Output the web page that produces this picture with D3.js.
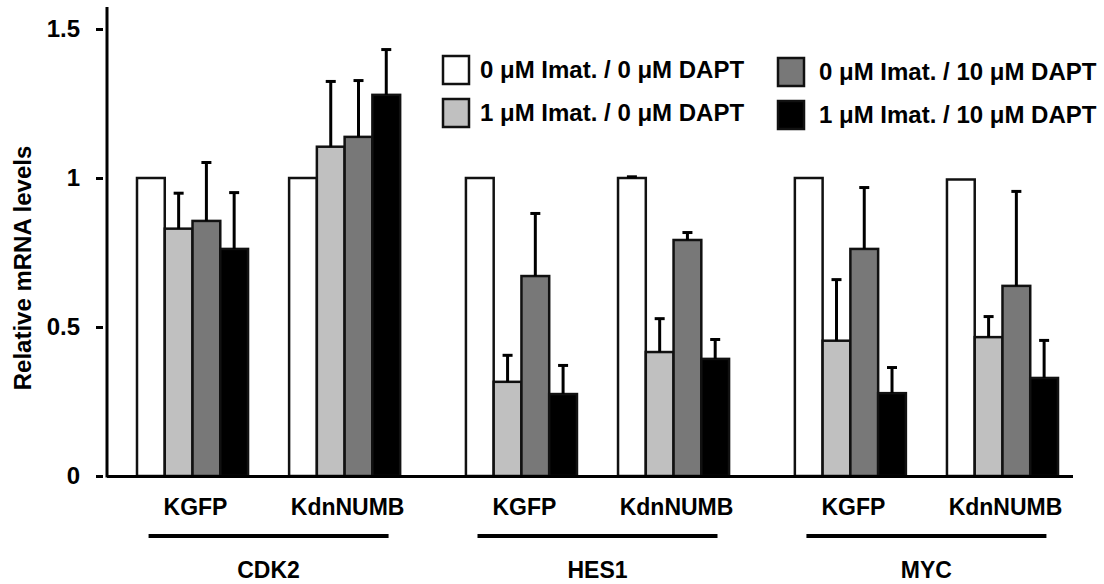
<!DOCTYPE html>
<html>
<head>
<meta charset="utf-8">
<script src="https://cdn.jsdelivr.net/npm/d3@7"></script>
<style>
body { margin: 0; background: #fff; }
text { font-family: "Liberation Sans", Arial, sans-serif; font-weight: bold; fill: #000; }
</style>
</head>
<body>
<script>

var genes = ["CDK2", "HES1", "MYC"];
var constructs = ["KGFP", "KdnNUMB"];
var conditions = [
  "0 μM Imat. / 0 μM DAPT",
  "1 μM Imat. / 0 μM DAPT",
  "0 μM Imat. / 10 μM DAPT",
  "1 μM Imat. / 10 μM DAPT"
];
var colors = ["#ffffff", "#c0c0c0", "#787878", "#000000"];

// one value per gene/construct pair: CDK2-KGFP, CDK2-KdnNUMB, HES1-KGFP, ...
var mean0 = [1.0, 1.0, 1.0, 1.0, 1.0, 0.995];
var mean1 = [0.83, 1.105, 0.316, 0.416, 0.454, 0.466];
var mean2 = [0.856, 1.138, 0.671, 0.792, 0.762, 0.638];
var mean3 = [0.762, 1.279, 0.275, 0.393, 0.278, 0.329];
var err0 = [0, 0, 0, 0.004, 0, 0];
var err1 = [0.119, 0.219, 0.089, 0.112, 0.205, 0.069];
var err2 = [0.196, 0.189, 0.21, 0.025, 0.206, 0.317];
var err3 = [0.189, 0.152, 0.096, 0.065, 0.086, 0.126];

var yTicks = [0, 0.5, 1, 1.5];
var yTickLabels = ["0", "0.5", "1", "1.5"];

var means = [mean0, mean1, mean2, mean3];
var errs = [err0, err1, err2, err3];

var width = 1104, height = 584;

var svg = d3.select("body").append("svg")
    .attr("width", width)
    .attr("height", height);

var y = d3.scaleLinear()
    .domain([0, 1.5])
    .range([476, 29]);

var x0 = d3.scaleBand()
    .domain(genes)
    .range([137, 1058])
    .paddingInner(0.2)
    .paddingOuter(0);

var x1 = d3.scaleBand()
    .domain(constructs)
    .range([0, x0.bandwidth()])
    .paddingInner(0.27);

var x2 = d3.scaleBand()
    .domain(d3.range(conditions.length))
    .range([0, x1.bandwidth()]);

// flatten into bar records
var bars = [];
genes.forEach(function(g, gi) {
  constructs.forEach(function(c, ci) {
    var i = gi * constructs.length + ci;
    conditions.forEach(function(k, ki) {
      bars.push({gene: g, construct: c, k: ki, value: means[ki][i], err: errs[ki][i]});
    });
  });
});

function barX(d) { return x0(d.gene) + x1(d.construct) + x2(d.k); }

svg.selectAll("rect.bar")
    .data(bars)
  .enter().append("rect")
    .attr("class", "bar")
    .attr("x", barX)
    .attr("width", x2.bandwidth())
    .attr("y", function(d) { return y(d.value); })
    .attr("height", function(d) { return y(0) - y(d.value); })
    .style("fill", function(d) { return colors[d.k]; })
    .style("stroke", "#111")
    .style("stroke-width", 2.5);

// error bars (upper only)
var eb = svg.selectAll("g.err")
    .data(bars.filter(function(d) { return d.err > 0; }))
  .enter().append("g")
    .attr("class", "err")
    .attr("transform", function(d) { return "translate(" + (barX(d) + x2.bandwidth() / 2) + ",0)"; });

eb.append("line")
    .attr("y1", function(d) { return y(d.value); })
    .attr("y2", function(d) { return y(d.value + d.err); })
    .style("stroke", "#000")
    .style("stroke-width", 3);

eb.append("line")
    .attr("x1", -5).attr("x2", 5)
    .attr("y1", function(d) { return y(d.value + d.err); })
    .attr("y2", function(d) { return y(d.value + d.err); })
    .style("stroke", "#000")
    .style("stroke-width", 3);

// y axis ticks, detached from the axis line
var yAxis = d3.axisLeft(y)
    .tickValues(yTicks)
    .tickFormat(function(d, i) { return yTickLabels[i]; })
    .tickSize(7)
    .tickPadding(16);

var ga = svg.append("g")
    .attr("transform", "translate(103,0)")
    .call(yAxis);
ga.select(".domain").remove();
ga.selectAll(".tick line").style("stroke", "#000").style("stroke-width", 3);
ga.selectAll(".tick text")
    .style("font-size", "24px")
    .style("font-family", "'Liberation Sans', Arial, sans-serif")
    .style("font-weight", "bold")
    .attr("fill", "#000");

svg.append("line")
    .attr("x1", 107).attr("x2", 107)
    .attr("y1", 7).attr("y2", y(0) + 1.5)
    .style("stroke", "#000").style("stroke-width", 3);

svg.append("line")
    .attr("x1", 107).attr("x2", 1073)
    .attr("y1", y(0) + 0.5).attr("y2", y(0) + 0.5)
    .style("stroke", "#000").style("stroke-width", 3);

// y label
svg.append("text")
    .attr("transform", "translate(31," + 268 + ") rotate(-90)")
    .attr("text-anchor", "middle")
    .style("font-size", "24px")
    .text("Relative mRNA levels");

// construct labels
var groups = [];
genes.forEach(function(g) { constructs.forEach(function(c) { groups.push({gene: g, construct: c}); }); });

svg.selectAll("text.construct")
    .data(groups)
  .enter().append("text")
    .attr("class", "construct")
    .attr("x", function(d) { return x0(d.gene) + x1(d.construct) + x1.bandwidth() / 2 + 3; })
    .attr("y", 515)
    .attr("text-anchor", "middle")
    .style("font-size", "23px")
    .text(function(d) { return d.construct; });

// gene underline + label
svg.selectAll("line.gene")
    .data(genes)
  .enter().append("line")
    .attr("class", "gene")
    .attr("x1", function(d) { return x0(d) + x0.bandwidth() / 2 - 120; })
    .attr("x2", function(d) { return x0(d) + x0.bandwidth() / 2 + 120; })
    .attr("y1", 536).attr("y2", 536)
    .style("stroke", "#000").style("stroke-width", 4);

svg.selectAll("text.gene")
    .data(genes)
  .enter().append("text")
    .attr("class", "gene")
    .attr("x", function(d) { return x0(d) + x0.bandwidth() / 2; })
    .attr("y", 578)
    .attr("text-anchor", "middle")
    .style("font-size", "23px")
    .text(function(d) { return d; });

// legend, 2 x 2
var legX = [443, 778], legY = [56, 99], legDy = [0, 2];
var leg = svg.selectAll("g.leg")
    .data(conditions)
  .enter().append("g")
    .attr("class", "leg")
    .attr("transform", function(d, i) {
      var col = Math.floor(i / 2);
      return "translate(" + legX[col] + "," + (legY[i % 2] + legDy[col]) + ")";
    });

leg.append("rect")
    .attr("width", 26).attr("height", 28)
    .style("fill", function(d, i) { return colors[i]; })
    .style("stroke", "#111")
    .style("stroke-width", 2.5);

leg.append("text")
    .attr("x", function(d, i) { return i < 2 ? 37 : 41; })
    .attr("y", 22)
    .style("font-size", "24px")
    .text(function(d) { return d; });

</script>
</body>
</html>
